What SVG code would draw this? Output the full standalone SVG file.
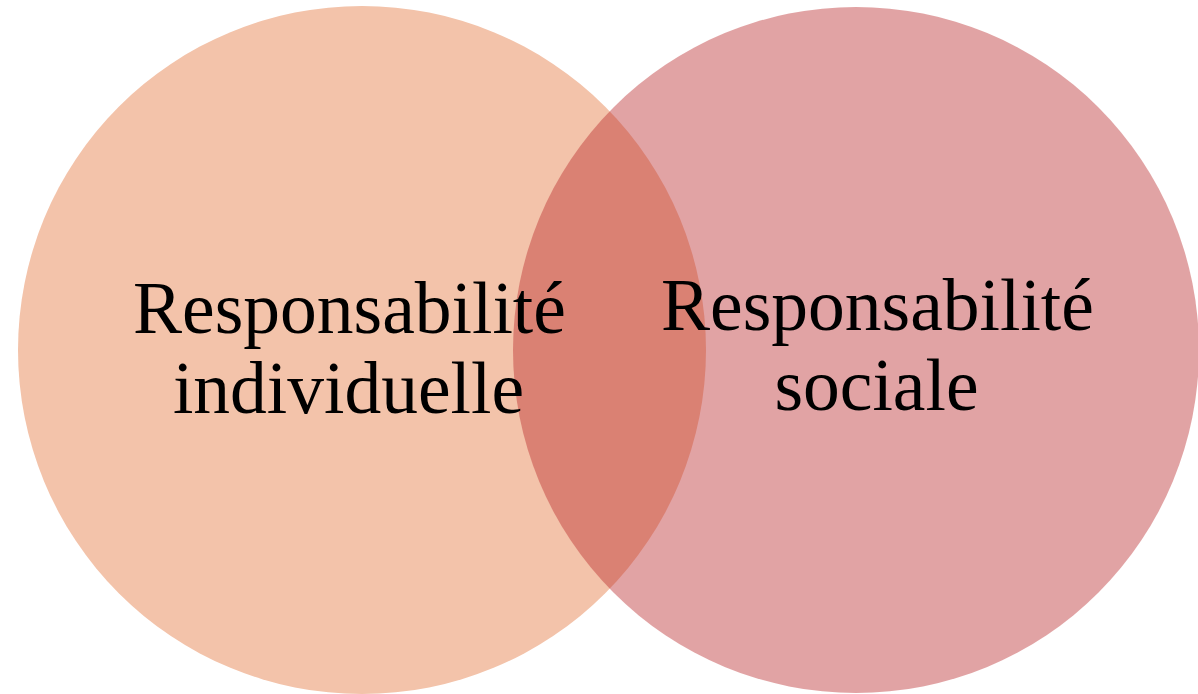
<svg xmlns="http://www.w3.org/2000/svg" width="1198" height="694" viewBox="0 0 1198 694">
<style>
.lbl{font-family:"Liberation Serif","DejaVu Serif",serif;font-size:73.5px;fill:#000;text-anchor:middle}
</style>
<rect width="1198" height="694" fill="#fff"/>
<g id="individuelle">
<circle cx="362" cy="350" r="344" fill="#F3C3AA"/>
</g>
<g id="sociale">
<circle cx="856" cy="350" r="343" fill="#B92A2B" fill-opacity="0.43"/>
</g>
<g id="labels">
<text class="lbl" x="349.5" y="333">Responsabilité</text>
<text class="lbl" x="348.5" y="413">individuelle</text>
<text class="lbl" x="877.5" y="330">Responsabilité</text>
<text class="lbl" x="876.5" y="410">sociale</text>
</g>
<g id="connectors"/>
</svg>
